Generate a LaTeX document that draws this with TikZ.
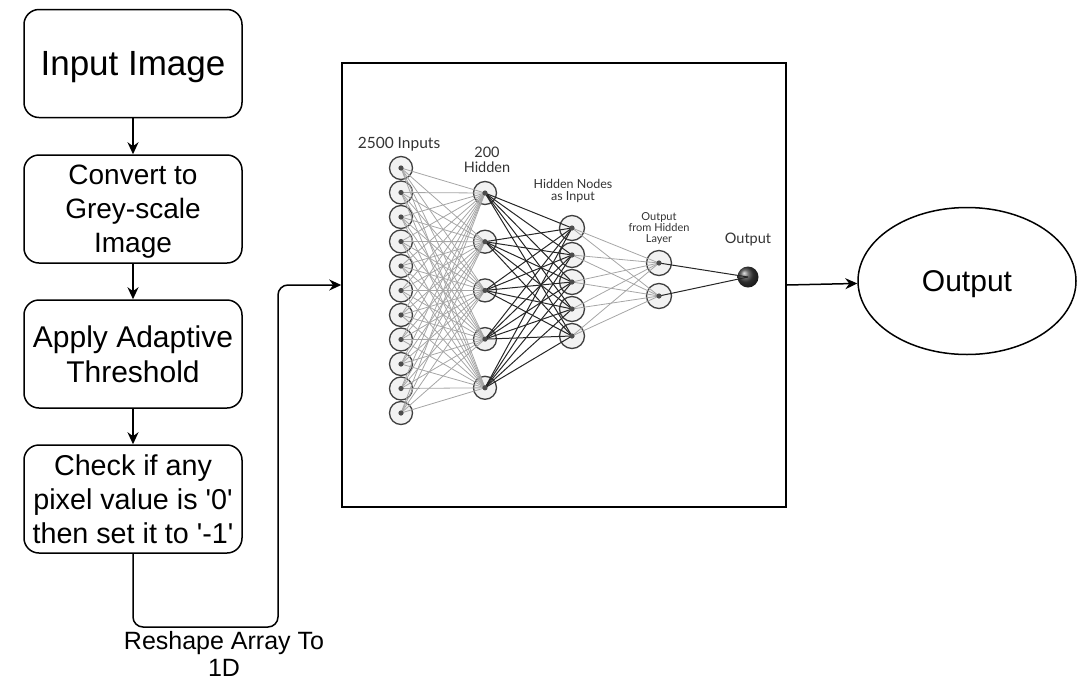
\documentclass[tikz,border=0pt]{standalone}
\usepackage{fontspec}
\setmainfont{Liberation Sans}
\newfontfamily\latofont{Lato}
\usetikzlibrary{arrows.meta,shapes.geometric}

\begin{document}
\begin{tikzpicture}[x=1pt,y=-1pt,>={Stealth[length=12pt,width=11pt]},
  stepbox/.style={draw,line width=1.5pt,rounded corners=15pt,
    minimum width=218pt,minimum height=108pt,inner sep=0pt,text depth=0pt,
    align=center,font=\fontsize{28}{34}\selectfont},
  unit/.style={circle,draw=black!75,line width=1.3pt,fill=black!5,
    minimum size=#1,inner sep=0pt},
  unit/.default=23pt,
  netlabel/.style={align=center,text=black!80,inner sep=0pt},
  light/.style={draw=black!35,line width=0.8pt},
  dark/.style={draw=black!85,line width=1pt}]
\useasboundingbox (0,0) rectangle (1088,681);

% flow on the left
\node[stepbox,font=\fontsize{35}{42}\selectfont] (input) at (133,63.5) {Input Image};
\node[stepbox] (grey) at (133,209) {Convert to\\Grey-scale\\Image};
\node[stepbox,font=\fontsize{30}{35}\selectfont] (thresh) at (133,354) {Apply Adaptive\\Threshold};
\node[stepbox,font=\fontsize{28.7}{34}\selectfont] (check) at (133,499)
  {Check if any\\pixel value is \textquotesingle0\textquotesingle\\then set it to \textquotesingle-1\textquotesingle};

\draw[->,line width=2pt] (input)--(grey);
\draw[->,line width=2pt] (grey)--(thresh);
\draw[->,line width=2pt] (thresh)--(check);

% network picture
\node[draw,line width=1.5pt,minimum width=444pt,minimum height=444pt,inner sep=0pt]
  (net) at (564,285) {};

\draw[->,line width=1.5pt,rounded corners=10pt] (check.south)|-(278,627)|-(net.west);
\node[align=center,font=\fontsize{25}{27}\selectfont] (reshape) at (224,654)
  {Reshape Array To\\1D};

\foreach \k in {1,...,11}
  \node[unit] (i\k) at (401,{168+24.5*(\k-1)}) {};
\foreach \k in {1,...,5}
  \node[unit] (h\k) at (485,{193+48.7*(\k-1)}) {};
\foreach \k in {1,...,5}
  \node[unit=25pt] (g\k) at (572,{228+27*(\k-1)}) {};
\node[unit=25pt] (o1) at (659,263) {};
\node[unit=25pt] (o2) at (659,296) {};
\node[circle,minimum size=21pt,inner sep=0pt,ball color=black!75] (y) at (748,277) {};

\foreach \a in {1,...,11}
  \foreach \b in {1,...,5}
    \draw[light] (i\a.center)--(h\b.center);
\foreach \a in {1,...,5}
  \foreach \b in {1,...,5}
    \draw[dark] (h\a.center)--(g\b.center);
\foreach \a in {1,...,5}
  \foreach \b in {1,2}
    \draw[light] (g\a.center)--(o\b.center);
\draw[dark] (o1.center)--(y.center);
\draw[dark] (o2.center)--(y.center);

\foreach \n in {i1,i2,i3,i4,i5,i6,i7,i8,i9,i10,i11,h1,h2,h3,h4,h5,g1,g2,g3,g4,g5,o1,o2}
  \fill[black!70] (\n.center) circle (2.6pt);

\node[netlabel,font=\latofont\fontsize{15.5}{15.5}\selectfont] (lin) at (399,144) {2500 Inputs};
\node[netlabel,font=\latofont\fontsize{14.5}{14.5}\selectfont] (lhid) at (487,160) {200\\Hidden};
\node[netlabel,font=\latofont\fontsize{12.5}{12.5}\selectfont] (lnodes) at (573,191) {Hidden Nodes\\as Input};
\node[netlabel,font=\latofont\fontsize{11}{11}\selectfont] (lohl) at (659,228) {Output\\from Hidden\\Layer};
\node[netlabel,font=\latofont\fontsize{14.5}{14.5}\selectfont] (lout) at (748,239) {Output};

% result
\node[ellipse,draw,line width=1.5pt,minimum width=218pt,minimum height=147pt,
  text depth=0pt,font=\fontsize{30}{36}\selectfont] (result) at (967,281) {Output};
\draw[->,line width=1.5pt] (net.east)--(result);
\end{tikzpicture}
\end{document}
